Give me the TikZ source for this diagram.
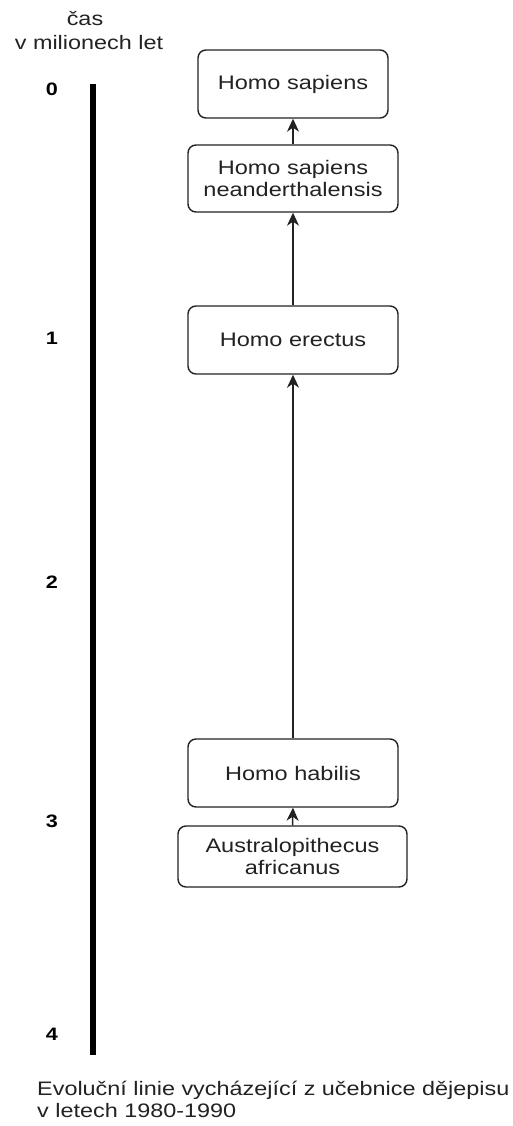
\documentclass[tikz,border=0pt]{standalone}
\usepackage{fontspec}
\newfontfamily\lab[FakeStretch=1.2]{Liberation Sans}
\usetikzlibrary{arrows.meta}
\definecolor{ink}{HTML}{222222}
\begin{document}
\begin{tikzpicture}[x=1pt,y=-1pt,
  box/.style={draw=ink, line width=1.4pt, rounded corners=8pt, fill=white, align=center,
    inner sep=0pt, font=\lab\fontsize{19.6}{22}\selectfont, text=ink},
  arr/.style={draw=ink, line width=1.5pt, -{Stealth[length=13pt,width=12pt,inset=4pt]}},
  txt/.style={inner sep=0pt, font=\lab\fontsize{19.5}{22}\selectfont, text=ink},
  num/.style={inner sep=0pt, font=\lab\bfseries\fontsize{18}{20}\selectfont, text=black}]
\useasboundingbox (0,0) rectangle (513,1126);
% axis
\coordinate (top) at (93,84);
\coordinate (bot) at (93,1055);
\draw[line width=6pt, black] (top) -- (bot);
\node[txt] (cas) at (85,18) {čas};
\node[txt] (mil) at (89,43) {v milionech let};
\node[num] (n0) at (52,89) {0};
\node[num] (n1) at (52,338) {1};
\node[num] (n2) at (52,582) {2};
\node[num] (n3) at (52,821) {3};
\node[num] (n4) at (52,1034) {4};
% boxes
\node[box, minimum width=190pt, minimum height=68pt] (hs) at (293,84) {Homo sapiens};
\node[box, minimum width=210pt, minimum height=67pt] (hn) at (293,178.5) {Homo sapiens\\neanderthalensis};
\node[box, minimum width=210pt, minimum height=68pt] (he) at (293,340) {Homo erectus};
\node[box, minimum width=210pt, minimum height=68pt] (hh) at (293,773) {Homo habilis};
\node[box, minimum width=229pt, minimum height=61pt] (au) at (292.5,856.5) {Australopithecus\\africanus};
% arrows
\draw[arr] (hn.north) -- (hs.south);
\draw[arr] (he.north) -- (hn.south);
\draw[arr] (hh.north) -- (he.south);
\draw[arr] (au.north) -- (hh.south);
% caption
\node[txt, anchor=west, align=left] (cap) at (37,1099) {Evoluční linie vycházející z učebnice dějepisu\\v letech 1980-1990};
\end{tikzpicture}
\end{document}
